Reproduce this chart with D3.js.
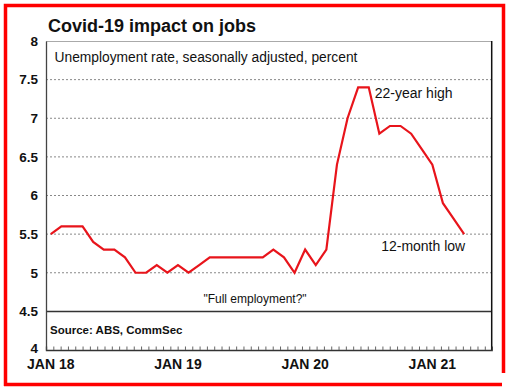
<!DOCTYPE html>
<html>
<head>
<meta charset="utf-8">
<script src="https://cdn.jsdelivr.net/npm/d3@7"></script>
<style>
html,body{margin:0;padding:0;background:#fff;}
svg{display:block;font-family:"Liberation Sans",Arial,sans-serif;}
</style>
</head>
<body>
<svg id="chart" width="510" height="389"></svg>
<script>
// ---- data ----
const months = [
  "2018-01","2018-02","2018-03","2018-04","2018-05","2018-06","2018-07","2018-08","2018-09","2018-10","2018-11","2018-12",
  "2019-01","2019-02","2019-03","2019-04","2019-05","2019-06","2019-07","2019-08","2019-09","2019-10","2019-11","2019-12",
  "2020-01","2020-02","2020-03","2020-04","2020-05","2020-06","2020-07","2020-08","2020-09","2020-10","2020-11","2020-12",
  "2021-01","2021-02","2021-03","2021-04"
];
const unemployment = [
  5.5,5.6,5.6,5.6,5.4,5.3,5.3,5.2,5.0,5.0,5.1,5.0,
  5.1,5.0,5.1,5.2,5.2,5.2,5.2,5.2,5.2,5.3,5.2,5.0,
  5.3,5.1,5.3,6.4,7.0,7.4,7.4,6.8,6.9,6.9,6.8,6.6,
  6.4,5.9,5.7,5.5
];
const yTicks = [4,4.5,5,5.5,6,6.5,7,7.5,8];
const yTickLabels = ["4","4.5","5","5.5","6","6.5","7","7.5","8"];
const xLabelMonths = ["2018-01","2019-01","2020-01","2021-01"];
const xLabels = ["JAN 18","JAN 19","JAN 20","JAN 21"];
const gridLevels = [5,5.5,6,6.5,7,7.5];
const title = "Covid-19 impact on jobs";
const subtitle = "Unemployment rate, seasonally adjusted, percent";
const annotations = [
  {text:"22-year high", month:"2020-07", value:7.4},
  {text:"12-month low", month:"2021-04", value:5.5}
];
const fullEmpLabel = "\"Full employment?\"";
const source = "Source: ABS, CommSec";

// ---- layout ----
const svg = d3.select("#chart");
const pL = 46, pR = 491.7, pT = 41, pB = 350;
const idx = m => months.indexOf(m);
const x = d3.scaleLinear().domain([-0.45, 41.6]).range([pL, pR]);
const y = d3.scaleLinear().domain([4, 8]).range([pB, pT]);

svg.append("rect").attr("width",510).attr("height",389).attr("fill","#fff");

// red frame
const frame = svg.append("g").attr("stroke","#ff0000").attr("stroke-width",3.5).attr("fill","none");
frame.append("path").attr("d","M5.5,386 L5.5,5.5 L503.5,5.5 L503.5,373");
frame.append("line").attr("x1",4).attr("x2",502).attr("y1",384.5).attr("y2",384.5);

// title
svg.append("text").attr("x",48).attr("y",32).attr("font-size",18).attr("font-weight","bold")
  .attr("fill","#111").text(title);

// gridlines
svg.append("g").selectAll("line").data(gridLevels).join("line")
  .attr("x1",pL).attr("x2",pR).attr("y1",d=>y(d)).attr("y2",d=>y(d))
  .attr("stroke","#888").attr("stroke-width",1).attr("stroke-dasharray","2,2");

// 4.5 solid line
svg.append("line").attr("x1",pL).attr("x2",pR).attr("y1",y(4.5)).attr("y2",y(4.5))
  .attr("stroke","#333").attr("stroke-width",1.5);

// plot frame
svg.append("line").attr("x1",pL).attr("x2",pR).attr("y1",pT+0.5).attr("y2",pT+0.5)
  .attr("stroke","#aaa").attr("stroke-width",1);
svg.append("line").attr("x1",pR).attr("x2",pR).attr("y1",pT).attr("y2",pB)
  .attr("stroke","#111").attr("stroke-width",1.5);

// x axis (ticks inside)
const xTickVals = d3.range(-0.45, 41.6, 0.69);
const xAxis = d3.axisBottom(x).tickValues(xTickVals).tickSize(-3.5).tickFormat("");
const gx = svg.append("g").attr("transform",`translate(0,${pB})`).call(xAxis);
gx.select(".domain").attr("stroke","#333").attr("stroke-width",1.3);
gx.selectAll(".tick line").attr("stroke","#666");

// y axis
const yAxis = d3.axisLeft(y).tickValues(yTicks).tickSize(0).tickPadding(8)
  .tickFormat((d,i)=>yTickLabels[i]);
const gy = svg.append("g").attr("transform",`translate(${pL},0)`).call(yAxis);
gy.select(".domain").attr("stroke","#444").attr("stroke-width",1.3);
gy.selectAll(".tick text").attr("font-size",13.5).attr("font-weight","bold")
  .attr("fill","#111").attr("font-family","Liberation Sans, Arial, sans-serif");
gy.selectAll(".tick").filter(d=>d===4).select("text").attr("dy","0.2em");

// x labels
svg.append("g").selectAll("text").data(xLabelMonths).join("text")
  .attr("x",d=>x(idx(d))).attr("y",369).attr("text-anchor","middle")
  .attr("font-size",14).attr("font-weight","bold").attr("fill","#111")
  .text((d,i)=>xLabels[i]);

// subtitle
svg.append("text").attr("x",54.5).attr("y",62).attr("font-size",13.8).attr("fill","#111").text(subtitle);

// line
const line = d3.line().x((d,i)=>x(i)).y(d=>y(d));
svg.append("path").datum(unemployment).attr("d",line).attr("fill","none")
  .attr("stroke","#e8141b").attr("stroke-width",2.2).attr("stroke-linejoin","miter");

// annotations
svg.append("text").attr("x",x(idx(annotations[0].month))+6).attr("y",y(annotations[0].value)+11)
  .attr("font-size",14).attr("fill","#111").text(annotations[0].text);
svg.append("text").attr("x",x(idx(annotations[1].month))-83).attr("y",y(annotations[1].value)+17)
  .attr("font-size",14).attr("fill","#111").text(annotations[1].text);

svg.append("text").attr("x",255).attr("y",303).attr("text-anchor","middle")
  .attr("font-size",12).attr("fill","#111").text(fullEmpLabel);

svg.append("text").attr("x",50).attr("y",334).attr("font-size",11.5).attr("font-weight","bold")
  .attr("fill","#111").text(source);
</script>
</body>
</html>
